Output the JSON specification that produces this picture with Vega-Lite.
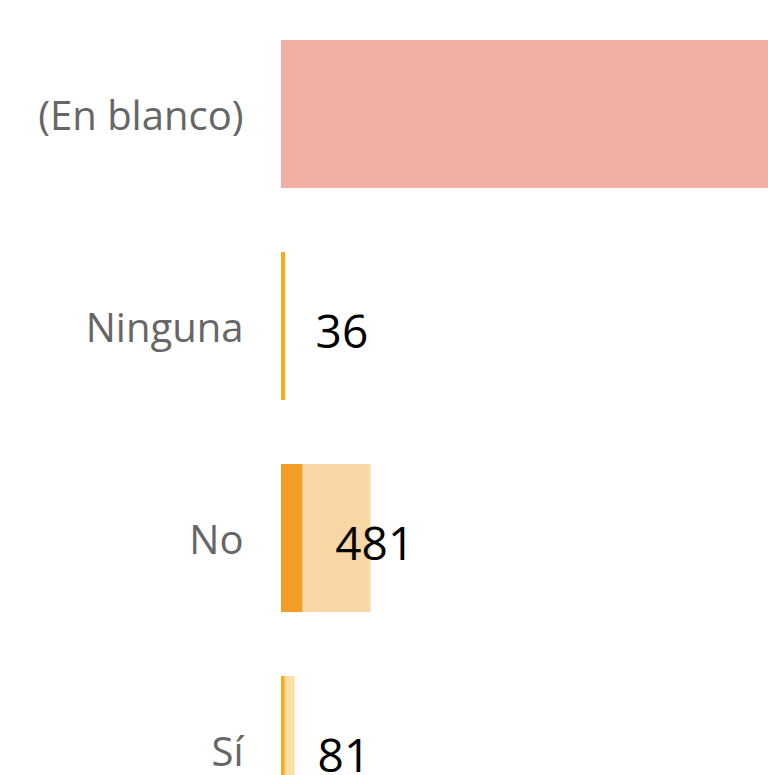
{
  "$schema": "https://vega.github.io/schema/vega-lite/v6.json",
  "autosize": "none",
  "width": 487,
  "height": 848,
  "padding": {"left": 281, "top": 8, "right": 0, "bottom": 0},
  "background": "white",
  "config": {"view": {"stroke": null}, "font": "Open Sans"},
  "data": {"values": [
    {"cat": "(En blanco)", "value": 12000, "total": 12000},
    {"cat": "Ninguna", "value": 36, "total": 90},
    {"cat": "No", "value": 481, "total": 2020},
    {"cat": "Sí", "value": 81, "total": 307}
  ]},
  "encoding": {
    "y": {"field": "cat", "type": "nominal", "sort": null,
      "scale": {"paddingInner": 0.302, "paddingOuter": 0.151},
      "axis": {"title": null, "domain": false, "ticks": false, "labelPadding": 38, "labelLimit": 0, "labelOffset": 4,
        "labelFontSize": 40, "labelColor": "#666666", "labelFont": "Open Sans"}}
  },
  "layer": [
    {"mark": {"type": "bar", "clip": true},
      "encoding": {
        "x": {"field": "total", "type": "quantitative", "scale": {"domain": [0, 10680]}, "axis": null},
        "color": {"field": "cat", "type": "nominal", "legend": null,
          "scale": {"domain": ["(En blanco)", "Ninguna", "No", "Sí"], "range": ["#F3AEA6", "#F5AB1E", "#F9D6A6", "#FCDFA5"]}}
      }},
    {"mark": {"type": "bar", "clip": true},
      "encoding": {
        "x": {"field": "value", "type": "quantitative"},
        "color": {"field": "cat", "type": "nominal", "legend": null,
          "scale": {"domain": ["(En blanco)", "Ninguna", "No", "Sí"], "range": ["#F3AEA6", "#F5AB1E", "#F29E26", "#F6AC1E"]}}
      }},
    {"transform": [{"filter": "datum.value < 10000"}],
      "mark": {"type": "text", "align": "left", "baseline": "middle", "dx": 33, "dy": 8, "fontSize": 46, "font": "Open Sans", "color": "#000000"},
      "encoding": {
        "x": {"field": "value", "type": "quantitative"},
        "text": {"field": "value", "type": "quantitative"}
      }}
  ],
  "resolve": {"scale": {"color": "independent"}}
}
